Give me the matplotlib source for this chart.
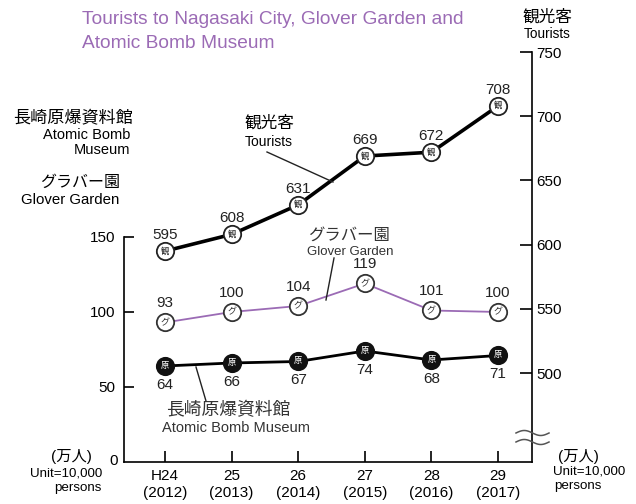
import matplotlib
matplotlib.use("Agg")
import matplotlib.pyplot as plt
import numpy as np

plt.rcParams['font.family'] = ['Liberation Sans', 'Noto Sans CJK JP', 'DejaVu Sans']

years_jp = ["H24", "25", "26", "27", "28", "29"]
years_ad = ["(2012)", "(2013)", "(2014)", "(2015)", "(2016)", "(2017)"]
tourists = [595, 608, 631, 669, 672, 708]
glover = [93, 100, 104, 119, 101, 100]
atomic = [64, 66, 67, 74, 68, 71]
left_ticks = [50, 100, 150]
right_ticks = [500, 550, 600, 650, 700, 750]

purple = "#9b6bb5"
W, H = 636, 504
fig = plt.figure(figsize=(W / 100, H / 100), dpi=100)
ax = fig.add_axes([124 / W, 1 - 462 / H, (532 - 124) / W, (462 - 52) / H])
ax2 = ax.twinx()

x = np.arange(len(tourists))
ax.set_xlim(-0.616, 5.51)
ax.set_ylim(0, 273.3)
ax2.set_ylim(430.8, 750)

# lines
ax.plot(x, glover, color=purple, lw=1.3, zorder=2)
ax.plot(x, atomic, color="black", lw=2.0, zorder=2)
ax2.plot(x, tourists, color="black", lw=2.6, zorder=2)

ms = 12.5
ax.plot(x, glover, 'o', ms=ms, mfc="white", mec="#333333", mew=1.3, zorder=3)
ax.plot(x, atomic, 'o', ms=ms, mfc="#111111", mec="#111111", mew=1.3, zorder=3)
ax2.plot(x, tourists, 'o', ms=ms, mfc="white", mec="#222222", mew=1.3, zorder=3)

for xi, v in zip(x, glover):
    ax.text(xi, v, "グ", ha="center", va="center", fontsize=6.5, color="#333333", zorder=4)
    ax.text(xi, v + 8, str(v), ha="center", va="bottom", fontsize=11, color="#222222")
for xi, v in zip(x, atomic):
    ax.text(xi, v, "原", ha="center", va="center", fontsize=6, color="white", zorder=4)
    ax.text(xi, v - 8, str(v), ha="center", va="top", fontsize=11, color="#222222")
for xi, v in zip(x, tourists):
    ax2.text(xi, v, "観", ha="center", va="center", fontsize=6, color="#222222", zorder=4)
    ax2.text(xi, v + 7, str(v), ha="center", va="bottom", fontsize=11, color="#222222")

# spines
for s in ["top", "right"]:
    ax.spines[s].set_visible(False)
for s in ["top", "left", "bottom"]:
    ax2.spines[s].set_visible(False)
ax.spines["left"].set_bounds(0, 150)
ax.spines["left"].set_linewidth(1.2)
ax.spines["bottom"].set_linewidth(1.2)
ax2.spines["right"].set_linewidth(1.2)

ax.set_yticks(left_ticks)
ax.set_yticklabels([str(t) for t in left_ticks])
ax.tick_params(axis="y", direction="in", length=7, width=1.2, labelsize=11, pad=6)
ax.set_xticks(x)
ax.set_xticklabels([f"{a}\n{b}" for a, b in zip(years_jp, years_ad)])
ax.tick_params(axis="x", direction="in", length=8, width=1.2, labelsize=11, pad=5)
for lab in ax.get_xticklabels():
    lab.set_linespacing(1.25)
ax2.set_yticks(right_ticks)
ax2.tick_params(axis="y", direction="in", length=9, width=1.2, labelsize=11, pad=3)

fig.text(114 / W, 1 - 461 / H, "0", ha="center", va="center", fontsize=11)

# break symbol on right axis (two small waves)
tt = np.linspace(0, 2 * np.pi, 40)
for base in (433, 442):
    xs = (516 + tt / (2 * np.pi) * 33) / W
    ys = 1 - (base - 2.5 * np.sin(tt)) / H
    fig.add_artist(plt.Line2D(xs, ys, color="#555555", lw=1.1))

# title
fig.text(82 / W, 1 - 20 / H, "Tourists to Nagasaki City, Glover Garden and",
         ha="left", va="center", fontsize=13.8, color=purple)
fig.text(82 / W, 1 - 43 / H, "Atomic Bomb Museum",
         ha="left", va="center", fontsize=13.8, color=purple)

# right axis title
fig.text(547 / W, 1 - 17 / H, "観光客", ha="center", va="center", fontsize=12)
fig.text(547 / W, 1 - 34 / H, "Tourists", ha="center", va="center", fontsize=9.8)

# left labels
fig.text(73 / W, 1 - 117 / H, "長崎原爆資料館", ha="center", va="center", fontsize=12.3)
fig.text(130 / W, 1 - 135 / H, "Atomic Bomb", ha="right", va="center", fontsize=10.5)
fig.text(130 / W, 1 - 150 / H, "Museum", ha="right", va="center", fontsize=10.5)
fig.text(80 / W, 1 - 182 / H, "グラバー園", ha="center", va="center", fontsize=11.5)
fig.text(70 / W, 1 - 200 / H, "Glover Garden", ha="center", va="center", fontsize=10.8)

# inline annotations
fig.text(269 / W, 1 - 123 / H, "観光客", ha="center", va="center", fontsize=12)
fig.text(269 / W, 1 - 142 / H, "Tourists", ha="center", va="center", fontsize=10)
fig.add_artist(plt.Line2D([267 / W, 333 / W], [1 - 152 / H, 1 - 182 / H], color="#222222", lw=1))

fig.text(349 / W, 1 - 235 / H, "グラバー園", ha="center", va="center", fontsize=11.8, color="#333333")
fig.text(350 / W, 1 - 252 / H, "Glover Garden", ha="center", va="center", fontsize=9.5, color="#333333")
fig.add_artist(plt.Line2D([334 / W, 326 / W], [1 - 258 / H, 1 - 300 / H], color="#222222", lw=1))

fig.text(228 / W, 1 - 411 / H, "長崎原爆資料館", ha="center", va="center", fontsize=12.8, color="#333333")
fig.text(236 / W, 1 - 428 / H, "Atomic Bomb Museum", ha="center", va="center", fontsize=10.5, color="#333333")
fig.add_artist(plt.Line2D([206 / W, 196 / W], [1 - 401 / H, 1 - 367 / H], color="#222222", lw=1))

# units
fig.text(71 / W, 1 - 457 / H, "(万人)", ha="center", va="center", fontsize=11)
fig.text(102 / W, 1 - 473 / H, "Unit=10,000", ha="right", va="center", fontsize=9.6)
fig.text(102 / W, 1 - 488 / H, "persons", ha="right", va="center", fontsize=9.6)
fig.text(578 / W, 1 - 457 / H, "(万人)", ha="center", va="center", fontsize=11)
fig.text(553 / W, 1 - 472 / H, "Unit=10,000", ha="left", va="center", fontsize=9.6)
fig.text(554 / W, 1 - 486 / H, "persons", ha="left", va="center", fontsize=9.6)

fig.savefig("out.png", dpi=100)
